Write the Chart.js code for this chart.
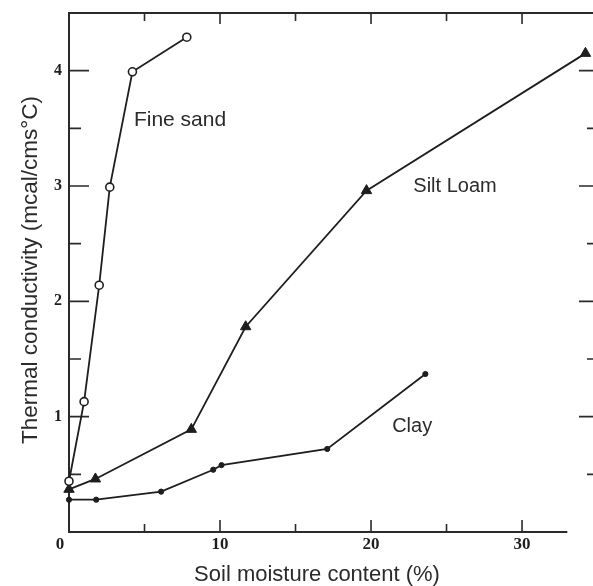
<!DOCTYPE html>
<html>
<head>
<meta charset="utf-8">
<script src="https://cdn.jsdelivr.net/npm/chart.js@4/dist/chart.umd.min.js"></script>
<style>
  html, body { margin: 0; padding: 0; background: #fff; overflow: hidden; }
  #wrap { width: 593px; height: 586px; overflow: hidden; }
  canvas { display: block; }
</style>
</head>
<body>
<div id="wrap"><canvas id="conductivityChart" width="593" height="586"></canvas></div>
<script>
// Soil moisture (%) vs thermal conductivity (mcal/cms°C)
const fineSandX = [0, 1.0, 2.0, 2.7, 4.2, 7.8];
const fineSandY = [0.44, 1.13, 2.14, 2.99, 3.99, 4.29];

const siltLoamX = [0, 1.75, 8.1, 11.7, 19.7, 34.2];
const siltLoamY = [0.37, 0.46, 0.89, 1.78, 2.96, 4.15];

const clayX = [0, 1.8, 6.1, 9.55, 10.1, 17.1, 23.6];
const clayY = [0.28, 0.28, 0.35, 0.54, 0.58, 0.72, 1.37];

// tick labels
const xTickLabels = [0, 10, 20, 30];
const yTickLabels = [1, 2, 3, 4];
const xTickMarks = [5, 10, 15, 20, 25, 30];
const yTickMarks = [0.5, 1, 1.5, 2, 2.5, 3, 3.5, 4];

const seriesNames = ["Fine sand", "Silt Loam", "Clay"];
// where each curve name sits, in data units
const nameX = [4.3, 22.8, 21.4];
const nameY = [3.52, 2.95, 0.87];

function toPoints(xs, ys) {
  return xs.map((x, i) => ({ x: x, y: ys[i] }));
}

const ink = "#1e1e1e";

// Axes, ticks and texts drawn by hand so they look like the scanned figure
const figureDecor = {
  id: "figureDecor",
  beforeDatasetsDraw(chart) {
    const ctx = chart.ctx;
    const a = chart.chartArea;
    const x = chart.scales.x;
    const y = chart.scales.y;
    ctx.save();
    ctx.strokeStyle = "#2a2a2a";
    ctx.lineWidth = 2;
    ctx.beginPath();
    ctx.moveTo(a.right, a.top);
    ctx.lineTo(a.left, a.top);
    ctx.lineTo(a.left, a.bottom);
    ctx.lineTo(x.getPixelForValue(33), a.bottom);
    ctx.stroke();

    ctx.lineWidth = 1.6;
    ctx.beginPath();
    xTickMarks.forEach((v) => {
      const px = x.getPixelForValue(v);
      const major = v % 10 === 0;
      ctx.moveTo(px, a.bottom);
      ctx.lineTo(px, a.bottom - (major ? 12 : 8));
      ctx.moveTo(px, a.top);
      ctx.lineTo(px, a.top + (major ? 11 : 8));
    });
    yTickMarks.forEach((v) => {
      const py = y.getPixelForValue(v);
      const major = v % 1 === 0;
      ctx.moveTo(a.left, py);
      ctx.lineTo(a.left + (major ? 20 : 12), py);
      ctx.moveTo(a.right, py);
      ctx.lineTo(a.right - (major ? 14 : 6), py);
    });
    ctx.stroke();
    ctx.restore();
  },
  afterDraw(chart) {
    const ctx = chart.ctx;
    const a = chart.chartArea;
    const x = chart.scales.x;
    const y = chart.scales.y;
    ctx.save();
    ctx.fillStyle = ink;

    // tick labels
    ctx.font = "bold 17px 'Liberation Serif', serif";
    ctx.textAlign = "center";
    ctx.textBaseline = "middle";
    xTickLabels.forEach((v) => {
      let px = x.getPixelForValue(v);
      if (v === 0) px -= 9;
      ctx.fillText(String(v), px, a.bottom + 13);
    });
    ctx.font = "bold 16px 'Liberation Serif', serif";
    yTickLabels.forEach((v) => {
      ctx.fillText(String(v), a.left - 11, y.getPixelForValue(v));
    });

    // curve names
    ctx.fillStyle = "#2b2b2b";
    ctx.textAlign = "left";
    ctx.textBaseline = "alphabetic";
    seriesNames.forEach((name, i) => {
      ctx.font = (i === 0 ? "21px" : "20px") + " 'Liberation Sans', Arial, sans-serif";
      ctx.fillText(name, x.getPixelForValue(nameX[i]), y.getPixelForValue(nameY[i]));
    });

    // axis titles
    ctx.font = "22px 'Liberation Sans', Arial, sans-serif";
    ctx.textAlign = "center";
    ctx.fillText("Soil moisture content (%)", 317, 581);

    ctx.translate(37, 270);
    ctx.rotate(-Math.PI / 2);
    ctx.font = "22.5px 'Liberation Sans', Arial, sans-serif";
    ctx.fillText("Thermal conductivity (mcal/cms\u00b0C)", 0, 0);
    ctx.restore();
  },
};

const ctx = document.getElementById("conductivityChart").getContext("2d");
new Chart(ctx, {
  type: "scatter",
  data: {
    datasets: [
      {
        label: seriesNames[0],
        data: toPoints(fineSandX, fineSandY),
        showLine: true,
        borderColor: ink,
        borderWidth: 1.8,
        pointStyle: "circle",
        pointRadius: 4,
        pointBorderWidth: 1.6,
        pointBackgroundColor: "#fff",
        pointBorderColor: ink,
      },
      {
        label: seriesNames[1],
        data: toPoints(siltLoamX, siltLoamY),
        showLine: true,
        borderColor: ink,
        borderWidth: 1.8,
        pointStyle: "triangle",
        pointRadius: 6,
        pointBorderWidth: 1,
        pointBackgroundColor: ink,
        pointBorderColor: ink,
      },
      {
        label: seriesNames[2],
        data: toPoints(clayX, clayY),
        showLine: true,
        borderColor: ink,
        borderWidth: 1.8,
        pointStyle: "circle",
        pointRadius: 2.6,
        pointBorderWidth: 1,
        pointBackgroundColor: ink,
        pointBorderColor: ink,
      },
    ],
  },
  options: {
    responsive: false,
    animation: false,
    clip: false,
    layout: {
      autoPadding: false,
      padding: { left: 69, right: 0, top: 13, bottom: 54 },
    },
    plugins: {
      legend: { display: false },
      tooltip: { enabled: false },
    },
    scales: {
      x: { type: "linear", min: 0, max: 34.7, display: false },
      y: { type: "linear", min: 0, max: 4.5, display: false },
    },
  },
  plugins: [figureDecor],
});
</script>
</body>
</html>
